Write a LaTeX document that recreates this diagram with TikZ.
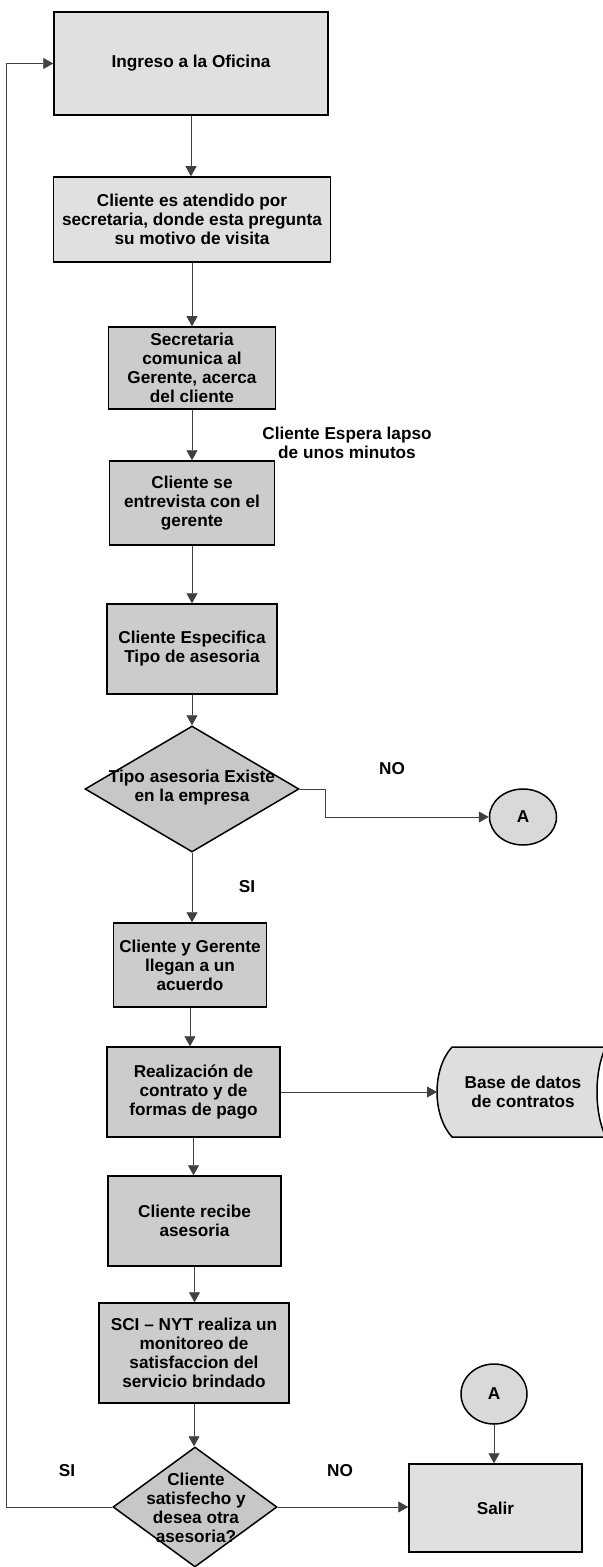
\documentclass[tikz,border=0pt]{standalone}
\usepackage{fontspec}
\setmainfont{Liberation Sans}
\usetikzlibrary{arrows.meta,shapes.geometric}
\tikzset{
  txt/.style={font=\fontsize{8.6}{9.5}\selectfont\bfseries, align=center, inner sep=0pt},
  box/.style={draw=black, line width=0.75pt, fill=black!20, rectangle, inner sep=0pt},
  lightbox/.style={box, fill=black!12},
  dia/.style={draw=black, line width=0.75pt, fill=black!22, diamond, inner sep=0pt},
  con/.style={draw=black, line width=0.75pt, fill=black!15, ellipse, inner sep=0pt},
  conn/.style={line width=0.45pt, draw=black!75, -{Triangle[length=5pt,width=5.5pt]}},
}
\begin{document}
\begin{tikzpicture}[x=0.5pt,y=-0.5pt]
\useasboundingbox (0,0) rectangle (602,1567);

% main column
\node[lightbox, minimum width=137pt, minimum height=51.5pt, txt] (b1) at (191,63.5) {Ingreso a la Oficina};
\node[lightbox, minimum width=138.5pt, minimum height=42.5pt, txt] (b2) at (192,219.5) {Cliente es atendido por\\secretaria, donde esta pregunta\\su motivo de visita};
\node[box, minimum width=83.5pt, minimum height=41pt, txt] (b3) at (192,368) {Secretaria\\comunica al\\Gerente, acerca\\del cliente};
\node[box, minimum width=82.5pt, minimum height=42pt, txt] (b4) at (192,503) {Cliente se\\entrevista con el\\gerente};
\node[box, minimum width=85pt, minimum height=45pt, txt] (b5) at (192,649) {Cliente Especifica\\Tipo de asesoria};
\node[dia, minimum width=107pt, minimum height=63pt] (d1) at (192,789) {};
\node[txt] (d1t) at (192,788) {Tipo asesoria Existe\\en la empresa};
\node[con, minimum width=33.5pt, minimum height=28pt, txt] (a1) at (523,817) {A};

\node[box, minimum width=76.5pt, minimum height=42pt, txt] (b6) at (190,965) {Cliente y Gerente\\llegan a un\\acuerdo};
\node[box, minimum width=86.5pt, minimum height=45pt, txt] (b7) at (193.5,1092) {Realización de\\contrato y de\\formas de pago};
\node[box, minimum width=86.5pt, minimum height=45pt, txt] (b8) at (194.5,1221) {Cliente recibe\\asesoria};
\node[box, minimum width=95pt, minimum height=50pt, txt] (b9) at (194,1353) {SCI – NYT realiza un\\monitoreo de\\satisfaccion del\\servicio brindado};
\node[dia, minimum width=82pt, minimum height=60pt] (d2) at (195,1507) {};
\node[txt] (d2t) at (196,1508) {Cliente\\satisfecho y\\desea otra\\asesoria?};

\node[lightbox, minimum width=86.5pt, minimum height=44pt, txt] (salir) at (495.5,1508) {Salir};
\node[con, minimum width=33pt, minimum height=30pt, txt] (a2) at (494,1394) {A};

% database (stored data)
\draw[fill=black!13, line width=0.75pt] (452,1047) -- (606,1047)
  .. controls (594,1070) and (594,1114) .. (606,1137) -- (452,1137)
  .. controls (432,1115) and (432,1069) .. (452,1047) -- cycle;
\node[txt] (db) at (523,1092) {Base de datos\\de contratos};
\coordinate (dbL) at (437,1092);
\coordinate (lp) at (6,0);

% labels
\node[txt] (lwait) at (347,443) {Cliente Espera lapso\\de unos minutos};
\node[txt] (lno1) at (392,769) {NO};
\node[txt] (lsi1) at (247,887) {SI};
\node[txt] (lsi2) at (67,1471) {SI};
\node[txt] (lno2) at (340,1471) {NO};

% connectors
\draw[conn] (b1.south) -- (b1.south |- b2.north);
\draw[conn] (b2.south) -- (b2.south |- b3.north);
\draw[conn] (b3.south) -- (b3.south |- b4.north);
\draw[conn] (b4.south) -- (b4.south |- b5.north);
\draw[conn] (b5.south) -- (b5.south |- d1.north);
\draw[conn] (d1.east) -- ++(26,0) |- (a1.west);
\draw[conn] (d1.south) -- (d1.south |- b6.north);
\draw[conn] (b6.south) -- (b6.south |- b7.north);
\draw[conn] (b7.east) -- (b7.east -| dbL);
\draw[conn] (b7.south) -- (b7.south |- b8.north);
\draw[conn] (b8.south) -- (b8.south |- b9.north);
\draw[conn] (b9.south) -- (b9.south |- d2.north);
\draw[conn] (d2.east) -- (d2.east -| salir.west);
\draw[conn] (a2.south) -- (a2.south |- salir.north);
\draw[conn] (d2.west) -- (d2.west -| lp) |- (b1.west);
\end{tikzpicture}
\end{document}
